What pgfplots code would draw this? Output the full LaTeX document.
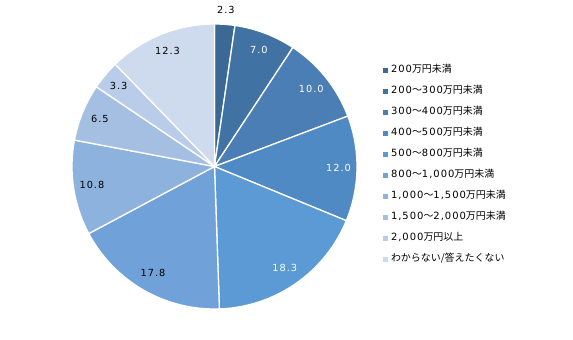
\documentclass[border=0pt]{standalone}
\usepackage{pgfplots}
\pgfplotsset{compat=1.18}
\usepackage{fontspec}
\setmainfont{DejaVu Sans}[LetterSpace=10]
\newfontfamily\cjk{Noto Sans CJK JP}
\definecolor{c1}{HTML}{3B6894}
\definecolor{c2}{HTML}{4172A4}
\definecolor{c3}{HTML}{4A7EB5}
\definecolor{c4}{HTML}{508AC4}
\definecolor{c5}{HTML}{5B9AD4}
\definecolor{c6}{HTML}{70A1D8}
\definecolor{c7}{HTML}{8DB2DE}
\definecolor{c8}{HTML}{A5BFE3}
\definecolor{c9}{HTML}{B9CCE9}
\definecolor{c10}{HTML}{CEDAEE}
\def\cum{0}
\def\tot{100.3}
\def\cx{214.5}
\def\cy{173.5}
\def\R{142.5}
% #1 value, #2 colour, #3 label colour, #4 label radius, #5 legend text
\newcommand\slice[5]{%
  \pgfmathsetmacro\aS{90-\cum/\tot*360}%
  \pgfmathsetmacro\newcum{\cum+#1}%
  \global\let\cum\newcum
  \pgfmathsetmacro\aE{90-\cum/\tot*360}%
  \pgfmathsetmacro\aM{(\aS+\aE)/2}%
  \pgfmathsetmacro\lx{\cx+#4*cos(\aM)}%
  \pgfmathsetmacro\ly{\cy+#4*sin(\aM)}%
  \edef\doplot{\noexpand\addplot[fill=#2, draw=white, line width=1.3pt, line join=round, domain=\aE:\aS, samples=60, variable=\noexpand\t] ({\cx+\R*cos(\noexpand\t)},{\cy+\R*sin(\noexpand\t)}) -- (axis cs:\cx,\cy) -- cycle;}%
  \doplot
  \addlegendentry{#5}
  \edef\donode{\noexpand\node[text=#3, inner sep=0pt, font=\noexpand\fontsize{9.8}{11}\noexpand\selectfont] at (axis cs:\lx,\ly) {#1};}%
  \donode
}
\begin{document}
\begin{tikzpicture}
\useasboundingbox (0,0) rectangle (573bp,340bp);
\begin{axis}[
  at={(0,0)}, anchor=south west,
  width=573bp, height=340bp, scale only axis,
  xmin=0, xmax=573, ymin=0, ymax=340,
  hide axis, clip=false,
  legend cell align=left,
  legend image code/.code={\fill[#1,draw=none] (0bp,-2.3bp) rectangle (4.8bp,2.5bp);},
  legend style={draw=none, fill=none, at={(axis cs:383,280.5)}, anchor=north west,
    row sep=0pt, inner sep=0pt, column sep=0pt,
    nodes={inner xsep=3bp, inner ysep=0pt, text height=7bp, text depth=2bp, minimum height=21bp},
    font=\fontsize{10}{12}\selectfont},
]
\slice{2.3}{c1}{black}{157}{200{\cjk 万円未満}}
\slice{7.0}{c2}{white}{125}{200{\cjk ～}300{\cjk 万円未満}}
\slice{10.0}{c3}{white}{124}{300{\cjk ～}400{\cjk 万円未満}}
\slice{12.0}{c4}{white}{124}{400{\cjk ～}500{\cjk 万円未満}}
\slice{18.3}{c5}{white}{123}{500{\cjk ～}800{\cjk 万円未満}}
\slice{17.8}{c6}{black}{123}{800{\cjk ～}1,000{\cjk 万円未満}}
\slice{10.8}{c7}{black}{124}{1,000{\cjk ～}1,500{\cjk 万円未満}}
\slice{6.5}{c8}{black}{124}{1,500{\cjk ～}2,000{\cjk 万円未満}}
\slice{3.3}{c9}{black}{125}{2,000{\cjk 万円以上}}
\slice{12.3}{c10}{black}{125}{{\cjk わからない/答えたくない}}
\end{axis}
\end{tikzpicture}
\end{document}
